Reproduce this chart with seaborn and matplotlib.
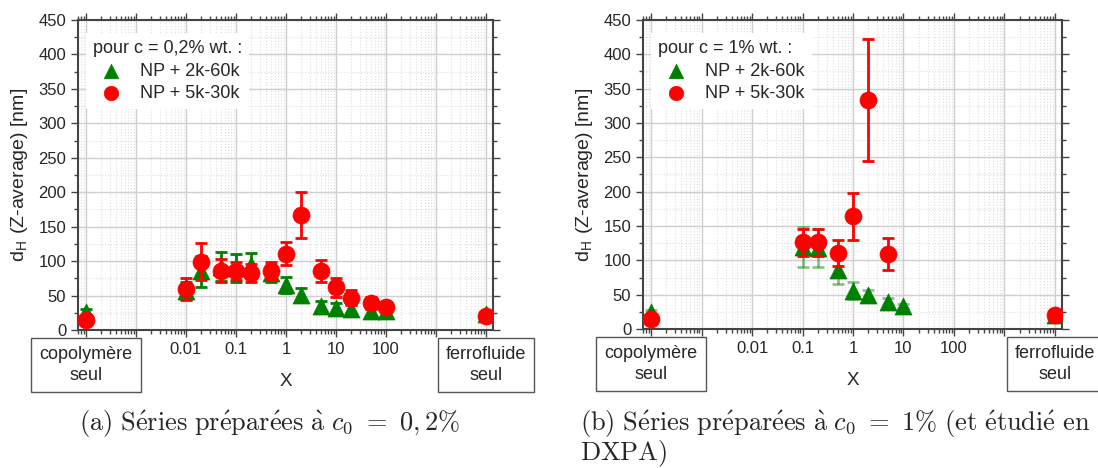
import matplotlib
matplotlib.use("Agg")
import matplotlib.pyplot as plt
import matplotlib.ticker as mticker
import matplotlib.transforms as mtransforms
import seaborn as sns
import pandas as pd
import numpy as np

# X axis: 1e-4 stands for "copolymère seul", 1e4 for "ferrofluide seul"
x_a = [1e-4, 0.01, 0.02, 0.05, 0.1, 0.2, 0.5, 1, 2, 5, 10, 20, 50, 100, 1e4]
green_a = [26, 57, 85, 92, 90, 94, 82, 65, 51, 35, 32, 30, 27, 27, 23]
green_a_err = [4, 12, 22, 21, 21, 18, 12, 12, 10, 7, 7, 7, 6, 6, 3]
red_a = [15, 60, 99, 86, 85, 83, 85, 111, 167, 85, 62, 47, 39, 34, 20]
red_a_err = [3, 16, 27, 17, 13, 13, 13, 17, 34, 16, 14, 11, 9, 7, 3]

x_b_green = [1e-4, 0.1, 0.2, 0.5, 1, 2, 5, 10, 1e4]
green_b = [25, 120, 118, 86, 56, 50, 40, 34, 21]
green_b_err = [3, 29, 28, 21, 13, 7, 5, 3, 3]
x_b_red = [1e-4, 0.1, 0.2, 0.5, 1, 2, 5, 1e4]
red_b = [14, 126, 126, 111, 164, 333, 109, 20]
red_b_err = [3, 20, 20, 19, 34, 89, 23, 3]

tick_vals = [0.01, 0.1, 1, 10, 100]
tick_labels = ["0.01", "0.1", "1", "10", "100"]
series_labels = ["NP + 2k-60k", "NP + 5k-30k"]

GREEN = "#008000"
RED = "#ff0000"

sns.set_style("ticks")
plt.rcParams["font.family"] = ["Liberation Sans", "DejaVu Sans"]
plt.rcParams["mathtext.fontset"] = "cm"

fig = plt.figure(figsize=(10.98, 4.68), dpi=100)
ax_a = fig.add_axes([0.0710, 0.2949, 0.3780, 0.6624])
ax_b = fig.add_axes([0.5856, 0.2970, 0.3816, 0.6603])


def draw_panel(ax, xg, yg, eg, xr, yr, er, title, green_err_alpha):
    dg = pd.DataFrame({"x": xg, "y": yg, "err": eg})
    dr = pd.DataFrame({"x": xr, "y": yr, "err": er})

    ax.errorbar(dg["x"], dg["y"], yerr=dg["err"], fmt="none", ecolor=GREEN,
                elinewidth=2, capsize=4, capthick=2, alpha=green_err_alpha, zorder=3)
    sns.scatterplot(data=dg, x="x", y="y", ax=ax, marker="^", s=150, color=GREEN,
                    edgecolor=GREEN, linewidth=0.5, label=series_labels[0], zorder=4)
    ax.errorbar(dr["x"], dr["y"], yerr=dr["err"], fmt="none", ecolor=RED,
                elinewidth=2, capsize=4, capthick=2, zorder=5)
    sns.scatterplot(data=dr, x="x", y="y", ax=ax, marker="o", s=150, color=RED,
                    edgecolor=RED, linewidth=0.5, label=series_labels[1], zorder=6)

    ax.set_xscale("log")
    ax.set_xlim(10 ** -4.16, 10 ** 4.14)
    ax.set_ylim(0, 450)

    ax.xaxis.set_major_locator(mticker.LogLocator(base=10, numticks=20))
    ax.xaxis.set_minor_locator(mticker.LogLocator(base=10, subs=np.arange(2, 10), numticks=20))
    ax.xaxis.set_major_formatter(mticker.FuncFormatter(
        lambda v, p: tick_labels[tick_vals.index(round(v, 6))] if round(v, 6) in tick_vals else ""))
    ax.xaxis.set_minor_formatter(mticker.NullFormatter())
    ax.yaxis.set_major_locator(mticker.MultipleLocator(50))
    ax.yaxis.set_minor_locator(mticker.MultipleLocator(25))

    ax.grid(which="major", color="#cfcfcf", linewidth=1, linestyle="-")
    ax.grid(which="minor", color="#dedede", linewidth=0.8, linestyle=":")
    ax.set_axisbelow(True)

    for s in ax.spines.values():
        s.set_visible(True)
        s.set_color("#444444")
        s.set_linewidth(1.5)
    ax.tick_params(axis="both", which="both", top=True, right=True, labelsize=12,
                   color="#444444", width=1)
    ax.tick_params(axis="both", which="major", length=5)
    ax.tick_params(axis="both", which="minor", length=3)
    ax.tick_params(axis="x", which="both", direction="out")
    ax.tick_params(axis="y", which="both", direction="out")

    ax.set_xlabel("X", fontsize=13.5, labelpad=12)
    ax.set_ylabel(r"d$_\mathregular{H}$ (Z-average) [nm]", fontsize=14, labelpad=6)

    leg = ax.legend(title=title, loc="upper left", bbox_to_anchor=(0.01, 0.97),
                    fontsize=13, title_fontsize=13, frameon=True, facecolor="white",
                    edgecolor="none", framealpha=1, alignment="left",
                    handletextpad=0.6, borderaxespad=0.2, labelspacing=0.3,
                    markerscale=0.85, fancybox=False)
    leg.set_zorder(10)

    trans = mtransforms.blended_transform_factory(ax.transData, ax.transAxes)
    box = dict(boxstyle="square,pad=0.45", facecolor="white", edgecolor="#555555", linewidth=1)
    ax.text(1e-4, -0.113, "copolymère\nseul", transform=trans, ha="center", va="center",
            fontsize=13, bbox=box, clip_on=False, linespacing=1.3)
    ax.text(1e4, -0.113, "ferrofluide\nseul", transform=trans, ha="center", va="center",
            fontsize=13, bbox=box, clip_on=False, linespacing=1.3)


draw_panel(ax_a, x_a, green_a, green_a_err, x_a, red_a, red_a_err,
           "pour c = 0,2% wt. :", 1.0)
draw_panel(ax_b, x_b_green, green_b, green_b_err, x_b_red, red_b, red_b_err,
           "pour c = 1% wt. :", 0.45)

fig.text(0.245, 0.094, r"$\mathrm{(a)\ S\acute{e}ries\ pr\acute{e}par\acute{e}es\ \grave{a}\ }c_0\ =\ 0,2\%$",
         ha="center", va="center", fontsize=19)
fig.text(0.528, 0.094, r"$\mathrm{(b)\ S\acute{e}ries\ pr\acute{e}par\acute{e}es\ \grave{a}\ }c_0\ =\ 1\%\ \mathrm{(et\ \acute{e}tudi\acute{e}\ en}$",
         ha="left", va="center", fontsize=19)
fig.text(0.528, 0.030, r"$\mathrm{DXPA)}$", ha="left", va="center", fontsize=19)

fig.savefig("out.png", dpi=100)
